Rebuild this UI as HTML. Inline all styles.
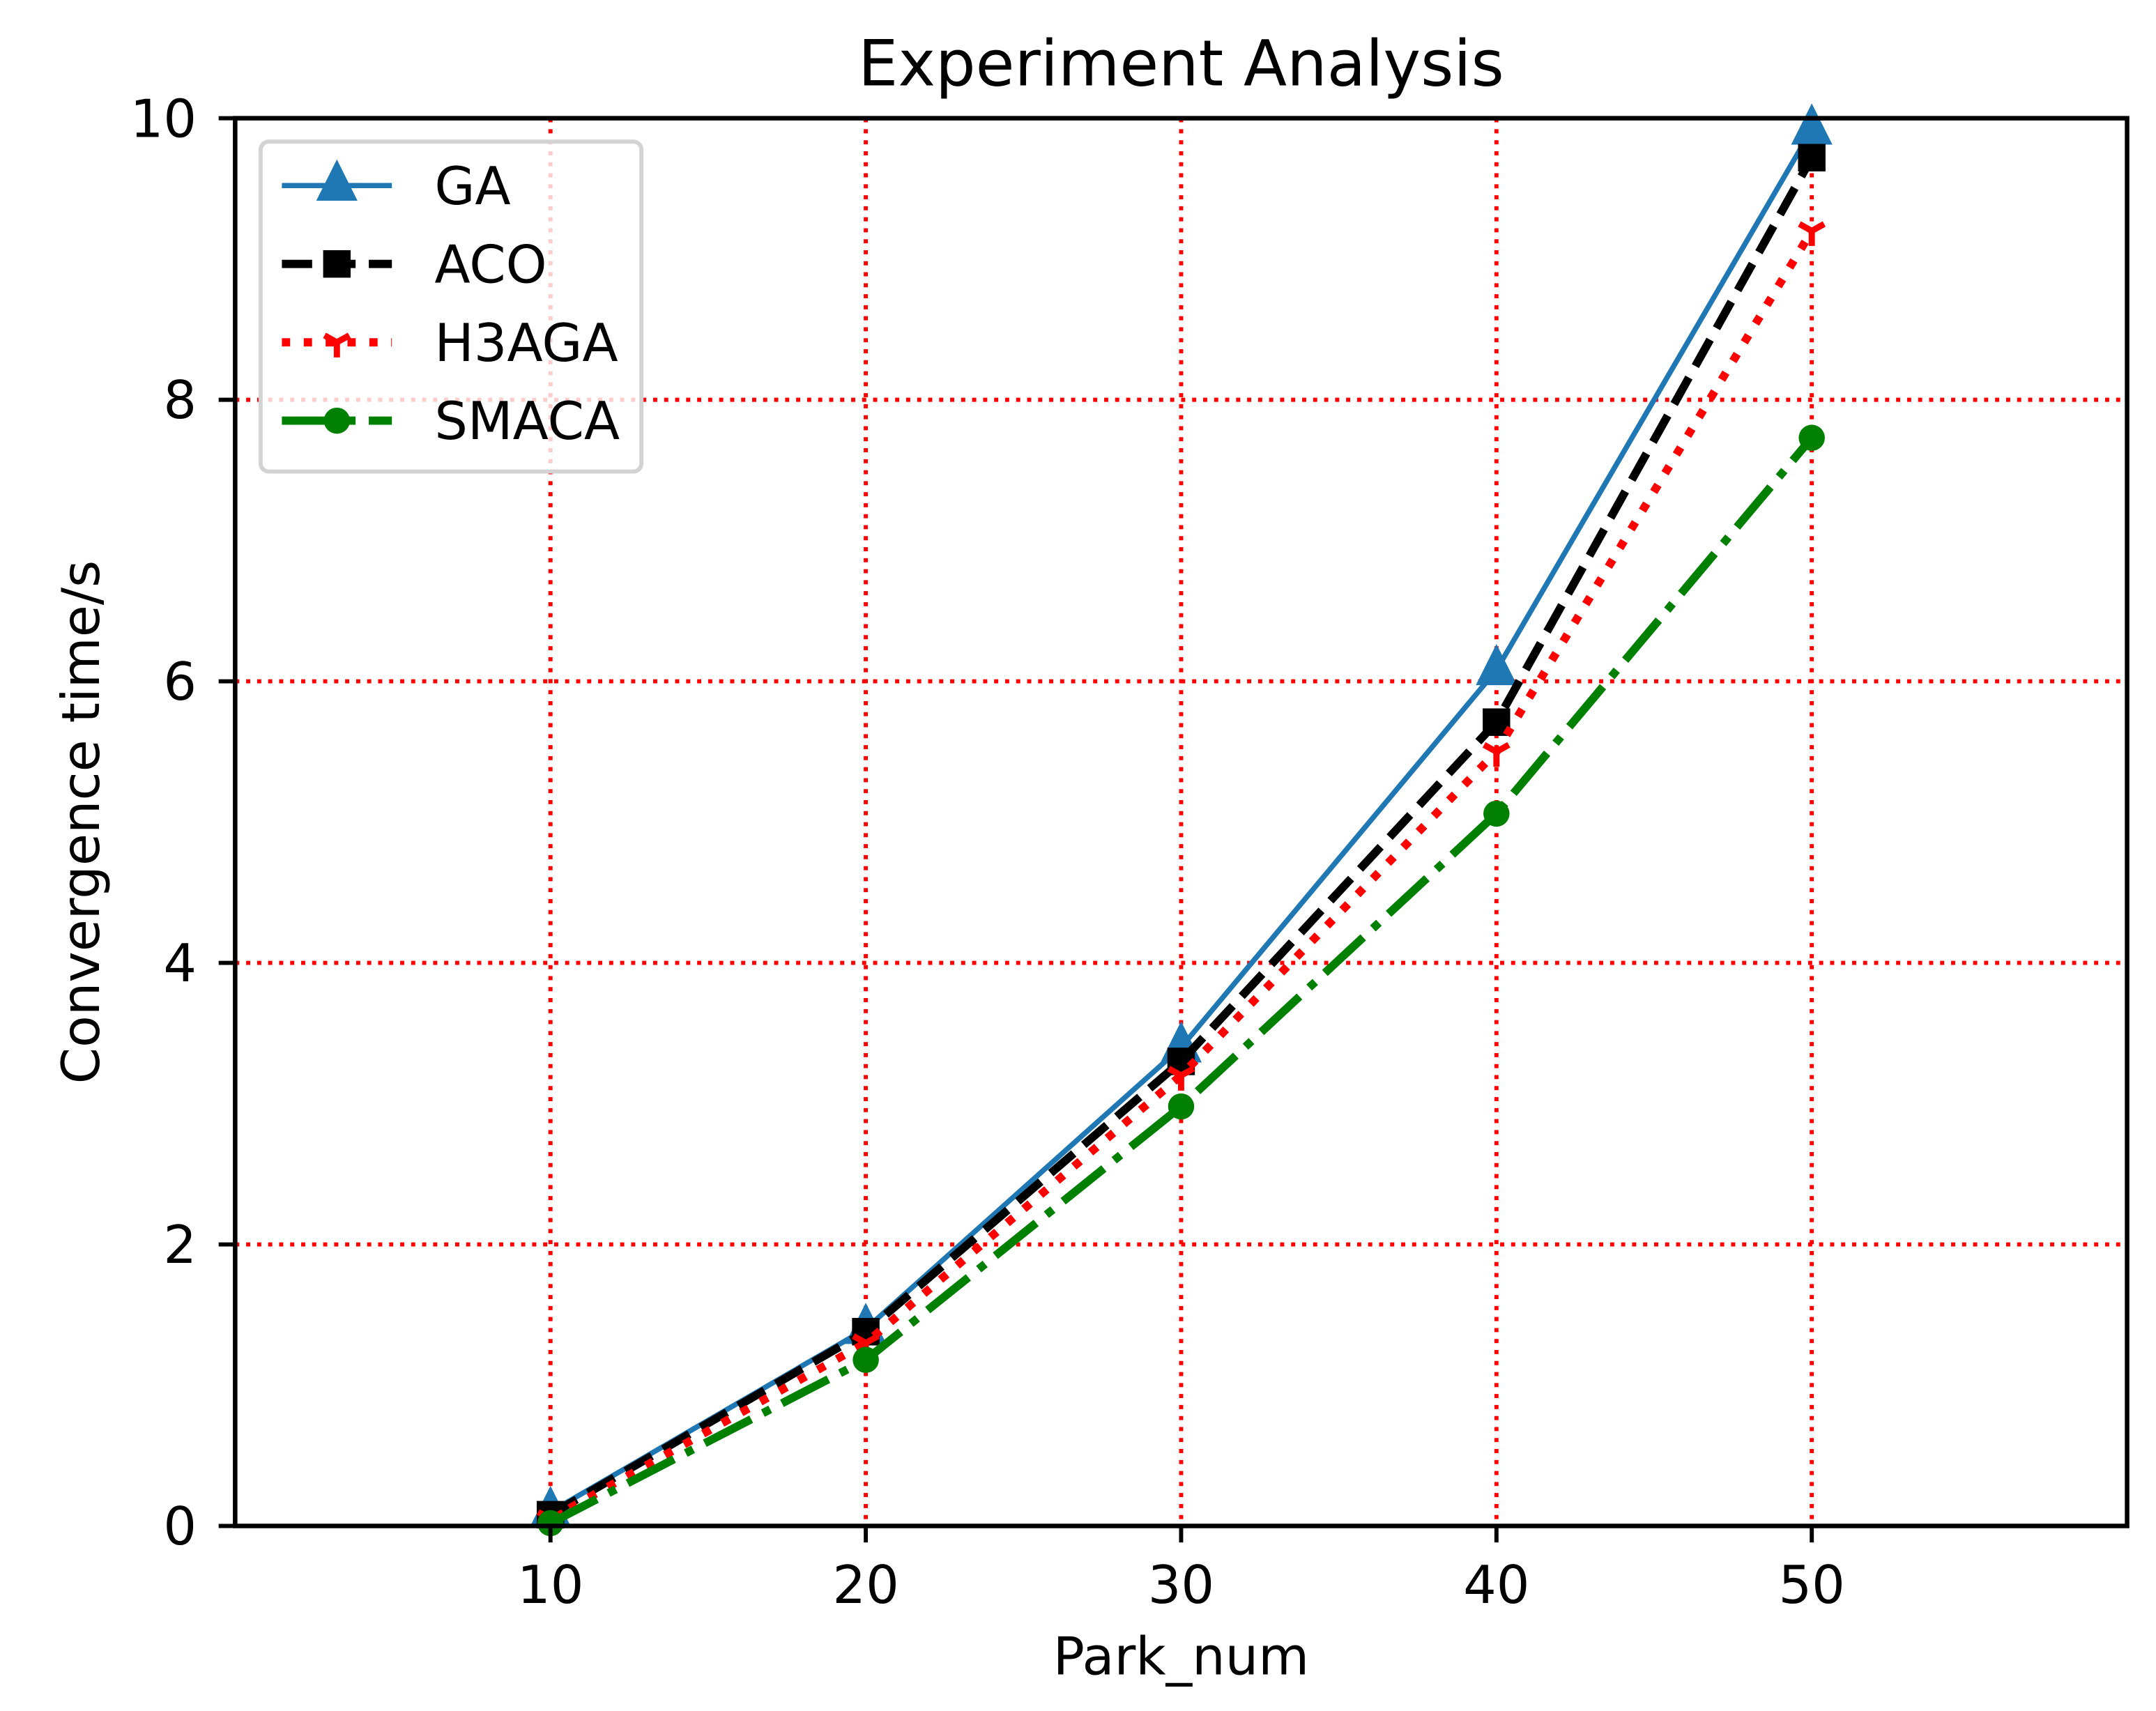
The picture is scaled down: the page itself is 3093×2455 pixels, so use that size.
<!DOCTYPE html>
<html><head><meta charset="utf-8"><style>
html,body{margin:0;padding:0;background:#fff}
svg{display:block}
text{font-family:"DejaVu Sans","Liberation Sans",sans-serif;fill:#000}
</style></head><body>
<svg id="chart" width="3093" height="2455" viewBox="0 0 1568 1244.6" xmlns="http://www.w3.org/2000/svg">
<rect width="1568" height="1244.6" fill="#fff"/>
<g id="grid"></g>
<g id="series"></g>
<rect x="171" y="86" width="1376" height="1024" fill="none" stroke="#000" stroke-width="3.3"/>
<g id="ticks"></g>
<text x="859" y="62" font-size="46" text-anchor="middle">Experiment Analysis</text>
<text x="859" y="1218" font-size="38" text-anchor="middle">Park_num</text>
<text x="0" y="0" font-size="38" text-anchor="middle" transform="translate(72,598) rotate(-90)">Convergence time/s</text>
<g id="legend"></g>
</svg>
<script>
const categories = [10, 20, 30, 40, 50];
const gaValues = [0.1, 1.4, 3.4, 6.08, 9.92];
const acoValues = [0.08, 1.38, 3.3, 5.71, 9.72];
const h3agaValues = [0.05, 1.3, 3.2, 5.5, 9.2];
const smacaValues = [0.02, 1.18, 2.98, 5.06, 7.73];
const seriesNames = ["GA", "ACO", "H3AGA", "SMACA"];
const xTickLabels = [10, 20, 30, 40, 50];
const yTickLabels = [0, 2, 4, 6, 8, 10];

const NS = "http://www.w3.org/2000/svg";
const L = 171, R = 1547, T = 86, B = 1110;
const xMin = 0, xMax = 60, yMin = 0, yMax = 10;
function xs(v){ return L + (v - xMin) / (xMax - xMin) * (R - L); }
function ys(v){ return B - (v - yMin) / (yMax - yMin) * (B - T); }
function mk(tag, attrs, parent){
  const e = document.createElementNS(NS, tag);
  for (const k in attrs) e.setAttribute(k, attrs[k]);
  parent.appendChild(e);
  return e;
}
const grid = document.getElementById('grid');
const ticks = document.getElementById('ticks');
const seriesG = document.getElementById('series');
const legend = document.getElementById('legend');

xTickLabels.forEach(v => {
  const g = mk('line', {x1: xs(v), x2: xs(v), y1: T, y2: B, stroke: '#ff0000', 'stroke-width': 3, 'stroke-dasharray': '3 5'}, grid);
  
  
  const t = mk('line', {x1: xs(v), x2: xs(v), y1: B, y2: B + 12, stroke: '#000', 'stroke-width': 3}, ticks);
  
  
  const lb = mk('text', {x: xs(v), y: B + 56, 'font-size': 38, 'text-anchor': 'middle'}, ticks);
  lb.textContent = v;
  
  
});
yTickLabels.forEach(v => {
  if (v > yMin && v < yMax) {
    const g = mk('line', {x1: L, x2: R, y1: ys(v), y2: ys(v), stroke: '#ff0000', 'stroke-width': 3, 'stroke-dasharray': '3 5'}, grid);
    
    
  }
  const t = mk('line', {x1: L - 12, x2: L, y1: ys(v), y2: ys(v), stroke: '#000', 'stroke-width': 3}, ticks);
  
  
  const lb = mk('text', {x: 143, y: ys(v) + 13.5, 'font-size': 38, 'text-anchor': 'end'}, ticks);
  lb.textContent = v;
  
  
});

const styles = [
  {color: '#1f77b4', w: 3.8, dash: '', marker: 'tri'},
  {color: '#000000', w: 6, dash: '22 9.6', marker: 'sq'},
  {color: '#ff0000', w: 6, dash: '6 9.9', marker: 'y'},
  {color: '#008000', w: 6, dash: '38 9.6 6 9.6', marker: 'circ'}
];
const allValues = [gaValues, acoValues, h3agaValues, smacaValues];

function marker(type, cx, cy, color, parent){
  let e;
  if (type === 'tri') e = mk('polygon', {points: `${cx},${cy-19} ${cx-15},${cy+11} ${cx+15},${cy+11}`, fill: color}, parent);
  else if (type === 'sq') e = mk('rect', {x: cx-10, y: cy-10, width: 20, height: 20, fill: color}, parent);
  else if (type === 'circ') e = mk('circle', {cx: cx, cy: cy, r: 9.5, fill: color}, parent);
  else e = mk('path', {d: `M${cx},${cy} L${cx},${cy+11} M${cx},${cy} L${cx-9},${cy-5} M${cx},${cy} L${cx+9},${cy-5}`, stroke: color, 'stroke-width': 4.5, fill: 'none'}, parent);
  return e;
}

allValues.forEach((vals, i) => {
  const s = styles[i];
  const pts = categories.map((c, j) => xs(c) + ',' + ys(vals[j])).join(' ');
  const pl = mk('polyline', {points: pts, fill: 'none', stroke: s.color, 'stroke-width': s.w, 'stroke-dasharray': s.dash, 'stroke-linejoin': 'round'}, seriesG);
  
  
  categories.forEach((c, j) => {
    const m = marker(s.marker, xs(c), ys(vals[j]), s.color, seriesG);
    
    
  });
});

const lb = mk('rect', {x: 189.5, y: 103, width: 277, height: 240, rx: 6, fill: 'rgba(255,255,255,0.8)', stroke: '#d3d3d3', 'stroke-width': 3}, legend);


seriesNames.forEach((n, i) => {
  const s = styles[i];
  const y = 135 + i * 57;
  const g = mk('g', {}, legend);
  
  
  mk('line', {x1: 205, x2: 285, y1: y, y2: y, stroke: s.color, 'stroke-width': s.w, 'stroke-dasharray': s.dash}, g);
  marker(s.marker, 245, y, s.color, g);
  const t = mk('text', {x: 316, y: y + 13.5, 'font-size': 38}, g);
  t.textContent = n;
});
</script>
</body></html>
